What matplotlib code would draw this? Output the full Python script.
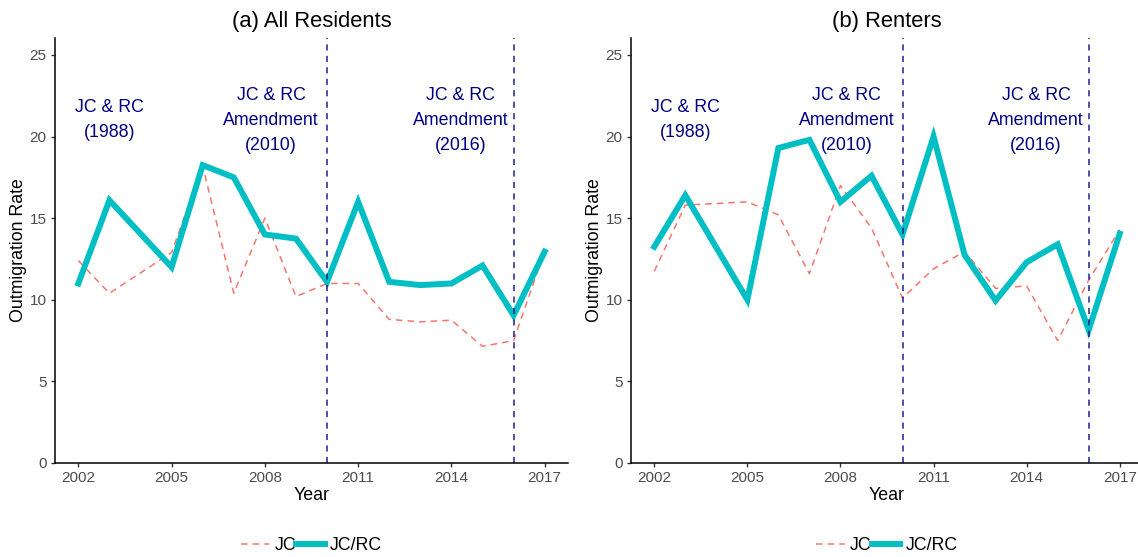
import numpy as np
import matplotlib.pyplot as plt
from matplotlib.lines import Line2D

plt.rcParams['font.family'] = ['Liberation Sans', 'DejaVu Sans']

# Survey years (no observation for 2004)
years = [2002, 2003, 2005, 2006, 2007, 2008, 2009, 2010,
         2011, 2012, 2013, 2014, 2015, 2016, 2017]

# Outmigration rates, all residents
all_jc = [12.4, 10.4, 12.9, 18.2, 10.4, 15.0, 10.2, 11.0,
          11.0, 8.8, 8.65, 8.75, 7.15, 7.5, 13.0]
all_jcrc = [11.0, 16.1, 12.0, 18.25, 17.5, 14.0, 13.75, 11.1,
            16.0, 11.1, 10.9, 11.0, 12.1, 9.05, 12.95]

# Outmigration rates, renters
rent_jc = [11.75, 15.8, 16.0, 15.2, 11.6, 17.0, 14.4, 10.1,
           11.9, 12.95, 10.7, 10.85, 7.5, 11.2, 14.3]
rent_jcrc = [13.25, 16.4, 10.0, 19.3, 19.8, 16.0, 17.6, 14.0,
             20.0, 12.75, 9.95, 12.3, 13.4, 8.15, 14.05]

panel_titles = ['(a) All Residents', '(b) Renters']
law_years = [2010, 2016]
notes = ['JC & RC\n(1988)', 'JC & RC\nAmendment\n(2010)', 'JC & RC\nAmendment\n(2016)']
note_x = [2003, 2008.2, 2014.3]
note_y = 21
xticks = [2002, 2005, 2008, 2011, 2014, 2017]
yticks = [0, 5, 10, 15, 20, 25]

JC_COL = '#F8766D'
RC_COL = '#00BFC4'

W, H = 1138, 557
fig = plt.figure(figsize=(W / 100, H / 100), dpi=100)

panels = [
    (55, 568, all_jc, all_jcrc),
    (631, 1143, rent_jc, rent_jcrc),
]

for i, (x0, x1, jc, jcrc) in enumerate(panels):
    ax = fig.add_axes([x0 / W, (H - 463) / H, (x1 - x0) / W, (463 - 38) / H])
    ax.plot(years, jc, color=JC_COL, lw=1.1, dashes=(4.3, 3.3))
    ax.plot(years, jcrc, color=RC_COL, lw=4.3, solid_joinstyle='miter')
    for ly in law_years:
        ax.axvline(ly, color='#1F1F8F', lw=1.1, dashes=(4, 3.5))
    for t, nx in zip(notes, note_x):
        ax.text(nx, note_y, t, ha='center', va='center', color='#000080',
                fontsize=12.8, linespacing=1.62)

    ax.set_xlim(2001.25, 2017.75)
    ax.set_ylim(0, 26.04)
    ax.set_xticks(xticks)
    ax.set_yticks(yticks)
    ax.tick_params(colors='#333333', labelcolor='#4D4D4D', labelsize=11,
                   length=3, width=1, pad=3)
    for s in ['top', 'right']:
        ax.spines[s].set_visible(False)
    for s in ['left', 'bottom']:
        ax.spines[s].set_linewidth(1.1)
        ax.spines[s].set_color('black')
    ax.set_xlabel('Year', fontsize=12.8, labelpad=1)
    ax.set_ylabel('Outmigration Rate', fontsize=12.8, labelpad=2)
    ax.set_title(panel_titles[i], fontsize=15.8, pad=8)

    handles = [
        Line2D([], [], color=JC_COL, lw=1.1, dashes=(4.3, 3.3)),
        Line2D([], [], color=RC_COL, lw=4.3),
    ]
    cx = (x0 + x1) / 2 / W
    fig.legend(handles, ['JC', 'JC/RC'], loc='center', ncol=2,
               bbox_to_anchor=(cx, (H - 546) / H), frameon=False,
               fontsize=12.8, handlelength=1.6, handletextpad=0.3,
               columnspacing=0.0, borderaxespad=0)

fig.savefig('out.png', dpi=100)
